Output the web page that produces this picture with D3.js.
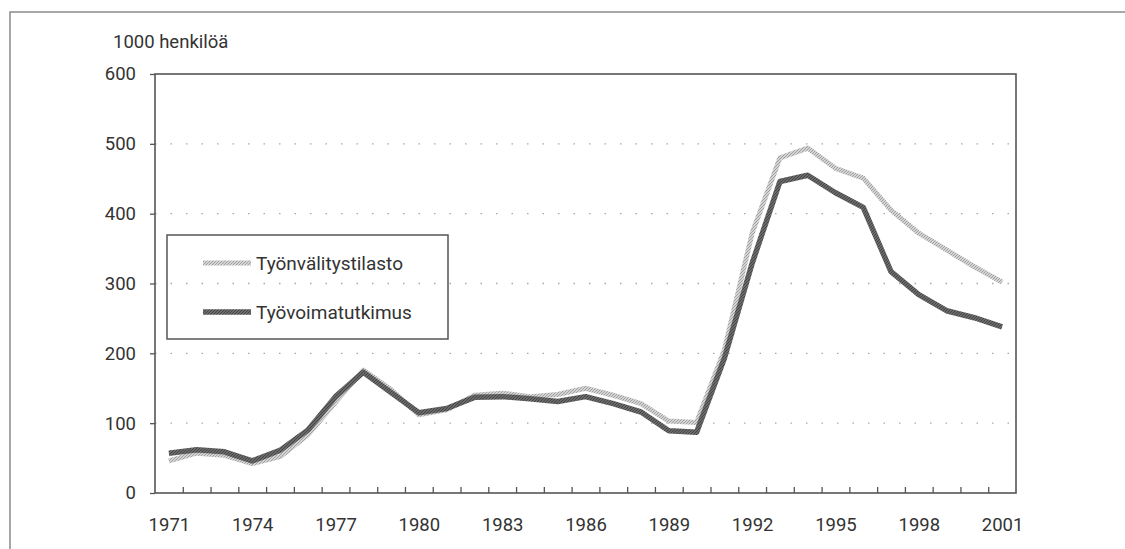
<!DOCTYPE html>
<html>
<head>
<meta charset="utf-8">
<script src="https://cdn.jsdelivr.net/npm/d3@7"></script>
<style>
  body { margin: 0; background: #fff; }
  svg { display: block; }
  text { font-family: Roboto, "DejaVu Sans Condensed", sans-serif; fill: #333; }
</style>
</head>
<body>
<div id="chart"></div>
<script>
const years = [1971, 1972, 1973, 1974, 1975, 1976, 1977, 1978, 1979, 1980,
    1981, 1982, 1983, 1984, 1985, 1986, 1987, 1988, 1989, 1990,
    1991, 1992, 1993, 1994, 1995, 1996, 1997, 1998, 1999, 2000, 2001];

// Työnvälitystilasto (light, hatched)
const tyonvalitys = [46, 57, 54, 42, 52, 83, 130, 176, 148, 112,
    119, 140, 143, 138, 141, 150, 140, 128, 103, 101,
    205, 372, 480, 494, 465, 451, 405, 372, 348, 324, 302];

// Työvoimatutkimus (dark)
const tyovoima = [57, 62, 59, 46, 61, 90, 138, 173, 144, 115,
    121, 137, 138, 135, 131, 138, 128, 116, 89, 87,
    193, 329, 446, 455, 430, 409, 317, 284, 261, 251, 238];

const yTicks = [0, 100, 200, 300, 400, 500, 600];
const xLabels = [1971, 1974, 1977, 1980, 1983, 1986, 1989, 1992, 1995, 1998, 2001];
const yTitle = "1000 henkilöä";
const seriesNames = ["Työnvälitystilasto", "Työvoimatutkimus"];

const W = 1125, H = 549;
const plot = { left: 155, right: 1016, top: 74, bottom: 493 };

const svg = d3.select("#chart")
    .append("svg")
    .attr("width", W)
    .attr("height", H);

const defs = svg.append("defs");

function hatch(id, bg, fg) {
    const p = defs.append("pattern")
        .attr("id", id)
        .attr("patternUnits", "userSpaceOnUse")
        .attr("width", 3)
        .attr("height", 3);
    p.append("rect").attr("width", 3).attr("height", 3).attr("fill", bg);
    p.append("path").attr("d", "M0,3 L3,0 M-1,1 L1,-1 M2,4 L4,2")
        .attr("stroke", fg).attr("stroke-width", 1);
}
hatch("hatchLight", "#d4d4d4", "#a0a0a0");
hatch("hatchDark", "#6a6a6a", "#454545");

// outer frame (top and left edges)
svg.append("path")
    .attr("d", `M10,${H} L10,12 L${W},12`)
    .attr("fill", "none")
    .attr("stroke", "#8a8a8a")
    .attr("stroke-width", 1.5);

const x = d3.scaleLinear()
    .domain([years[0] - 0.5, years[years.length - 1] + 0.5])
    .range([plot.left, plot.right]);

const y = d3.scaleLinear()
    .domain([0, 600])
    .range([plot.bottom, plot.top]);

// dotted gridlines
svg.append("g")
    .selectAll("line")
    .data(yTicks.filter(d => d > 0 && d < 600))
    .enter()
    .append("line")
    .attr("x1", plot.left)
    .attr("x2", plot.right)
    .attr("y1", d => y(d))
    .attr("y2", d => y(d))
    .attr("stroke", "#a8a8a8")
    .attr("stroke-width", 1.3)
    .attr("stroke-dasharray", "1.5,14");

// y axis
const yAxis = svg.append("g")
    .attr("transform", `translate(${plot.left},0)`)
    .call(d3.axisLeft(y).tickValues(yTicks).tickSize(5).tickPadding(14));
yAxis.select(".domain").remove();
yAxis.selectAll("line").attr("stroke", "#555").attr("stroke-width", 1.3);
yAxis.selectAll("text")
    .style("font-size", "18.5px")
    .attr("fill", "#333");
yAxis.attr("font-family", null);

// x axis: ticks between years, pointing inwards
const xTicks = svg.append("g")
    .attr("transform", `translate(0,${plot.bottom})`)
    .call(d3.axisBottom(x)
        .tickValues(years.slice(0, -1).map(d => d + 0.5))
        .tickSize(-6)
        .tickFormat(""));
xTicks.select(".domain").remove();
xTicks.selectAll("line").attr("stroke", "#555").attr("stroke-width", 1.3);

const xLab = svg.append("g")
    .attr("transform", `translate(0,${plot.bottom})`)
    .call(d3.axisBottom(x)
        .tickValues(xLabels)
        .tickSize(0)
        .tickPadding(25)
        .tickFormat(d3.format("d")));
xLab.select(".domain").remove();
xLab.attr("font-family", null);
xLab.selectAll("text")
    .style("font-size", "18.5px")
    .attr("fill", "#333");

// plot frame
svg.append("rect")
    .attr("x", plot.left)
    .attr("y", plot.top)
    .attr("width", plot.right - plot.left)
    .attr("height", plot.bottom - plot.top)
    .attr("fill", "none")
    .attr("stroke", "#555")
    .attr("stroke-width", 1.6);

// y title
svg.append("text")
    .attr("x", 113)
    .attr("y", 48)
    .style("font-size", "18.5px")
    .text(yTitle);

const line = d3.line()
    .x((d, i) => x(years[i]))
    .y(d => y(d));

svg.append("path")
    .datum(tyonvalitys)
    .attr("d", line)
    .attr("fill", "none")
    .attr("stroke", "url(#hatchLight)")
    .attr("stroke-width", 5)
    .attr("stroke-linejoin", "round");

svg.append("path")
    .datum(tyovoima)
    .attr("d", line)
    .attr("fill", "none")
    .attr("stroke", "url(#hatchDark)")
    .attr("stroke-width", 5.5)
    .attr("stroke-linejoin", "round");

// legend
const legend = svg.append("g");
legend.append("rect")
    .attr("x", 167)
    .attr("y", 235)
    .attr("width", 281)
    .attr("height", 104)
    .attr("fill", "none")
    .attr("stroke", "#555")
    .attr("stroke-width", 1.5);

const legendItems = [
    { name: seriesNames[0], stroke: "url(#hatchLight)", width: 5, ly: 263 },
    { name: seriesNames[1], stroke: "url(#hatchDark)", width: 5.5, ly: 312 }
];

legendItems.forEach(item => {
    legend.append("line")
        .attr("x1", 203)
        .attr("x2", 251)
        .attr("y1", item.ly)
        .attr("y2", item.ly)
        .attr("stroke", item.stroke)
        .attr("stroke-width", item.width);
    legend.append("text")
        .attr("x", 256)
        .attr("y", item.ly + 6.5)
        .style("font-size", "19px")
        .text(item.name);
});
</script>
</body>
</html>
